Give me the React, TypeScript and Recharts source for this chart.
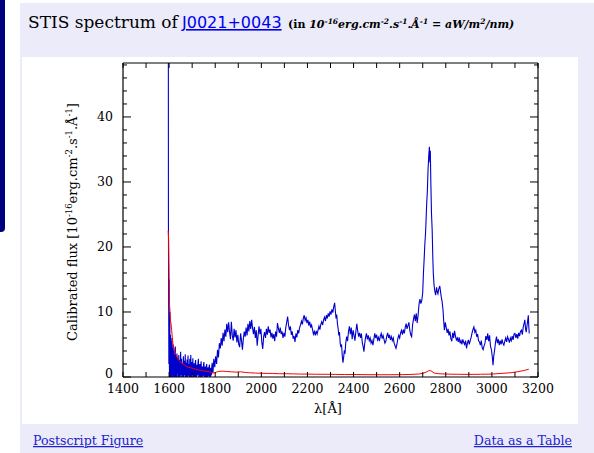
import React from "react";
import { LineChart, Line, XAxis, YAxis } from "recharts";

// Calibrated flux (blue): [wavelength Å, flux]
const blueSpectrum: [number, number][] = [
  [1594, 300], [1597, 24], [1599, 2], [1600, 15], [1601, 3], [1602, -1], [1603, 10], [1604, 2], [1605, 0], [1606, 6.5],
  [1607, 1], [1608, -1], [1609, 5.5], [1610, 2], [1611, 0], [1612, 6], [1613, 1.5], [1614, -1], [1615, 4.5], [1616, 2.5],
  [1617, 0.5], [1618, 5], [1619, 1], [1620, -1], [1621, 4], [1622, 2], [1623, 0], [1624, 3.5], [1625, 1], [1626, -1],
  [1627, 4.7], [1628, 1.5], [1629, 0], [1630, 2.8], [1631, 3.2], [1632, 0.5], [1633, -1], [1634, 3.6], [1635, 1.2],
  [1636, 0.5], [1637, 2.9], [1638, 2.4], [1639, 0.2], [1640, -1], [1641, 1.8], [1642, 3.4], [1643, 1.0], [1644, 0],
  [1645, 1.9], [1646, 2.6], [1647, 0.3], [1648, -1], [1649, 2.2], [1650, 3.9], [1651, 1.1], [1652, 0.3], [1653, 1.7],
  [1654, 2.8], [1655, 0.4], [1656, -1], [1657, 1.6], [1658, 2.1], [1659, 0.6], [1660, 0], [1661, 2.0], [1662, 3.2],
  [1663, 0.8], [1664, -0.5], [1665, 1.8], [1666, 2.5], [1667, 0.3], [1668, 0.5], [1669, 2.2], [1670, 3.5], [1671, 0.9],
  [1672, -1], [1673, 1.5], [1674, 2.2], [1675, 0.4], [1676, 0], [1677, 1.9], [1678, 2.7], [1679, 0.7], [1680, -1],
  [1681, 2.1], [1682, 3.3], [1683, 1.0], [1684, 0.2], [1685, 1.4], [1686, 2.0], [1687, 0.5], [1688, -1], [1689, 1.7],
  [1690, 2.8], [1691, 0.8], [1692, 0], [1693, 2.0], [1694, 3.4], [1695, 1.1], [1696, -0.8], [1697, 1.6], [1698, 2.3],
  [1699, 0.6], [1700, 0.3], [1702, 1.8], [1703, 2.9], [1704, 0.9], [1706, -1], [1707, 1.5], [1709, 2.1], [1710, 0.4],
  [1712, 0], [1713, 1.9], [1715, 2.6], [1716, 0.7], [1718, -0.5], [1719, 1.3], [1721, 1.9], [1722, 0.3], [1724, 0.4],
  [1725, 2.0], [1727, 2.8], [1728, 0.9], [1730, -1], [1731, 1.4], [1733, 2.0], [1734, 0.5], [1736, 0], [1737, 1.7],
  [1739, 2.4], [1740, 0.8], [1742, -0.5], [1743, 1.2], [1745, 1.6], [1746, 0.2], [1748, 0.3], [1749, 1.8], [1751, 2.3],
  [1752, 0.6], [1754, -1], [1755, 1.1], [1757, 1.6], [1758, 0.4], [1760, 0], [1761, 1.5], [1763, 2.0], [1764, 0.5],
  [1766, -0.6], [1767, 1.0], [1769, 1.5], [1770, 0.3], [1772, 0.2], [1773, 1.4], [1775, 1.9], [1776, 0.6], [1778, -1],
  [1779, 0.9], [1781, 1.4], [1782, 0.3], [1784, 0.4], [1785, 1.6], [1787, 2.2], [1788, 0.9], [1790, 0.6],
  [1794, 2.8], [1798, 1.5], [1802, 3.2], [1806, 2.0], [1810, 4.2], [1814, 3.0], [1818, 5.2],
  [1822, 4.4], [1826, 6.0], [1830, 4.8], [1834, 6.8], [1838, 5.5], [1842, 7.3], [1846, 6.2], [1850, 8.2],
  [1854, 6.9], [1858, 8.4], [1862, 7.0], [1866, 5.8], [1870, 8.5], [1874, 6.4], [1878, 5.6], [1882, 7.4],
  [1886, 6.1], [1890, 7.2], [1894, 5.3], [1898, 6.5], [1902, 5.0], [1906, 4.6], [1910, 6.7], [1914, 5.6],
  [1918, 4.2], [1922, 5.9], [1926, 7.0], [1930, 6.2], [1934, 7.6], [1938, 6.4], [1942, 8.2], [1946, 7.0],
  [1950, 8.6], [1954, 7.4], [1958, 8.8], [1962, 7.5], [1966, 6.6], [1970, 7.7], [1974, 6.0], [1978, 7.2],
  [1982, 4.8], [1986, 6.4], [1990, 7.8], [1994, 6.6], [1998, 7.4], [2002, 5.4], [2006, 4.3], [2010, 6.2],
  [2014, 6.9], [2018, 6.0], [2022, 7.4], [2026, 6.5], [2030, 7.8], [2034, 6.8], [2038, 7.3], [2042, 6.1],
  [2046, 6.8], [2050, 5.9], [2054, 6.6], [2058, 5.5], [2062, 7.0], [2066, 6.2], [2070, 8.3], [2074, 7.5],
  [2078, 6.8], [2082, 7.6], [2086, 6.6], [2090, 7.0], [2094, 6.0], [2098, 6.8], [2102, 6.2], [2106, 7.6],
  [2110, 8.4], [2114, 9.3], [2118, 8.0], [2122, 7.2], [2126, 7.8], [2130, 6.5], [2134, 7.0], [2138, 5.9],
  [2142, 6.3], [2146, 5.4], [2150, 6.7], [2154, 6.1], [2158, 7.2], [2162, 6.7], [2166, 7.6], [2170, 8.0],
  [2174, 8.6], [2178, 8.1], [2182, 9.0], [2186, 9.5], [2190, 8.7], [2194, 9.1], [2198, 8.3], [2202, 8.8],
  [2206, 7.9], [2210, 8.5], [2214, 7.6], [2218, 8.0], [2222, 7.3], [2226, 6.6], [2230, 7.0], [2234, 6.4],
  [2238, 7.1], [2242, 6.6], [2246, 7.2], [2250, 7.8], [2254, 7.3], [2258, 8.1], [2262, 8.5], [2266, 8.0],
  [2270, 8.8], [2274, 9.2], [2278, 8.6], [2282, 9.5], [2286, 9.0], [2290, 9.8], [2294, 9.3], [2298, 10.1],
  [2302, 9.6], [2306, 10.4], [2310, 9.9], [2314, 10.8], [2318, 11.4], [2321, 10.2], [2324, 9.0], [2327, 9.6],
  [2330, 8.2], [2333, 7.5], [2336, 6.4], [2339, 6.9], [2342, 5.2], [2345, 4.6], [2348, 5.0], [2351, 3.3],
  [2354, 2.2], [2357, 3.0], [2360, 4.1], [2363, 3.6], [2366, 5.2], [2370, 6.2], [2374, 5.5], [2378, 7.0],
  [2382, 7.8], [2386, 6.6], [2390, 7.6], [2394, 5.8], [2398, 7.2], [2402, 6.4], [2406, 5.6], [2410, 7.0],
  [2414, 8.2], [2418, 7.1], [2422, 6.2], [2426, 6.8], [2430, 6.0], [2434, 6.7], [2438, 5.3], [2442, 4.6],
  [2445, 3.9], [2448, 5.0], [2452, 6.1], [2456, 6.7], [2460, 5.8], [2464, 6.4], [2468, 5.6], [2472, 6.0],
  [2476, 5.2], [2480, 5.6], [2484, 4.9], [2488, 5.8], [2492, 6.7], [2496, 6.0], [2500, 6.5], [2504, 5.7],
  [2508, 6.1], [2512, 5.5], [2516, 6.3], [2520, 6.7], [2524, 5.9], [2528, 6.4], [2532, 5.8], [2536, 5.2],
  [2540, 5.5], [2544, 6.3], [2548, 6.8], [2552, 6.0], [2556, 6.5], [2560, 5.7], [2564, 6.2], [2568, 5.6],
  [2572, 6.0], [2576, 5.2], [2580, 4.8], [2584, 4.4], [2588, 5.0], [2592, 5.9], [2596, 6.4], [2600, 6.0],
  [2604, 6.8], [2608, 7.2], [2612, 6.5], [2616, 7.3], [2620, 6.7], [2624, 7.6], [2628, 8.2], [2632, 7.4],
  [2636, 7.9], [2640, 8.4], [2644, 7.2], [2648, 6.5], [2652, 6.2], [2656, 8.0], [2660, 8.9], [2664, 9.6],
  [2668, 8.6], [2672, 9.8], [2676, 8.3], [2680, 9.5], [2684, 11.2], [2688, 12.0], [2692, 11.3], [2696, 11.8],
  [2700, 13.0], [2703, 15.9], [2706, 18.0], [2709, 20.3], [2712, 22.0], [2714, 23.6], [2717, 26.5], [2720, 28.5],
  [2723, 31.8], [2726, 34.0], [2729, 35.4], [2731, 33.0], [2733, 34.8], [2735, 30.3], [2738, 25.2], [2741, 22.6],
  [2744, 18.0], [2746, 15.9], [2749, 14.2], [2752, 13.3], [2756, 12.6], [2760, 13.8], [2763, 13.1], [2766, 12.8],
  [2770, 13.6], [2774, 14.0], [2777, 13.2], [2780, 12.4], [2784, 11.6], [2788, 10.3], [2791, 8.6], [2794, 7.2],
  [2798, 8.4], [2802, 7.6], [2806, 6.8], [2810, 7.4], [2814, 6.4], [2818, 7.0], [2822, 5.9], [2826, 5.5],
  [2830, 6.8], [2834, 6.0], [2838, 7.1], [2842, 6.3], [2846, 5.7], [2850, 6.0], [2854, 5.4], [2858, 6.1],
  [2862, 5.2], [2866, 5.6], [2870, 5.0], [2874, 5.8], [2878, 5.3], [2882, 5.0], [2886, 5.6], [2890, 4.4],
  [2894, 5.2], [2898, 5.7], [2902, 5.0], [2906, 5.6], [2910, 6.1], [2914, 6.8], [2918, 7.3], [2922, 7.7],
  [2926, 6.9], [2930, 7.2], [2934, 6.2], [2938, 6.6], [2942, 5.6], [2946, 5.4], [2950, 4.9], [2954, 5.6],
  [2958, 4.5], [2962, 4.2], [2966, 4.8], [2970, 5.2], [2974, 6.3], [2978, 5.7], [2982, 6.7], [2986, 5.5],
  [2990, 6.4], [2994, 4.7], [2998, 4.2], [3002, 3.0], [3005, 1.8], [3008, 3.2], [3012, 4.2], [3016, 5.4],
  [3020, 6.2], [3024, 5.2], [3028, 5.8], [3032, 4.9], [3036, 5.6], [3040, 5.0], [3044, 5.8], [3048, 5.2],
  [3052, 4.9], [3056, 5.5], [3060, 6.0], [3064, 5.4], [3068, 6.2], [3072, 5.8], [3076, 5.3], [3080, 6.0],
  [3084, 5.6], [3088, 6.3], [3092, 5.7], [3096, 6.6], [3100, 6.7], [3104, 6.0], [3108, 6.6], [3112, 5.9],
  [3116, 6.8], [3120, 6.3], [3124, 7.0], [3128, 7.2], [3132, 6.5], [3136, 7.7], [3140, 8.3], [3143, 8.8],
  [3146, 7.4], [3149, 6.9], [3152, 7.8], [3155, 8.6], [3158, 9.5], [3160, 7.8], [3162, 6.7],
];

// Error spectrum (red): [wavelength Å, flux]
const errorSpectrum: [number, number][] = [
  [1596, 22.5], [1598, 21], [1600, 15.5], [1602, 11], [1604, 10], [1606, 8.6], [1608, 8.3], [1611, 7.2],
  [1614, 6.0], [1617, 5.0], [1620, 4.6], [1624, 4.0], [1628, 3.5], [1632, 3.3], [1636, 3.0], [1640, 2.6],
  [1646, 2.4], [1652, 2.2], [1660, 2.0], [1668, 1.8], [1676, 1.6], [1685, 1.5], [1695, 1.4], [1705, 1.3],
  [1715, 1.2], [1725, 1.1], [1735, 1.0], [1745, 0.95], [1755, 0.9], [1765, 0.85], [1775, 0.8], [1785, 0.7],
  [1795, 0.6], [1805, 0.75], [1815, 0.85], [1830, 0.9], [1850, 0.85], [1870, 0.8], [1890, 0.75], [1910, 0.8],
  [1930, 0.7], [1950, 0.65], [1975, 0.6], [2000, 0.58], [2025, 0.55], [2050, 0.55], [2080, 0.5], [2110, 0.5],
  [2140, 0.48], [2170, 0.45], [2200, 0.45], [2240, 0.42], [2280, 0.42], [2320, 0.4], [2360, 0.38], [2400, 0.38],
  [2450, 0.36], [2500, 0.35], [2550, 0.35], [2600, 0.36], [2640, 0.38], [2680, 0.45], [2700, 0.55], [2715, 0.75],
  [2725, 0.95], [2732, 1.0], [2740, 0.85], [2750, 0.6], [2770, 0.5], [2800, 0.45], [2850, 0.42], [2900, 0.4],
  [2950, 0.42], [3000, 0.45], [3040, 0.55], [3080, 0.65], [3110, 0.8], [3140, 1.0], [3160, 1.2],
];

const xTicks = [1400, 1500, 1600, 1700, 1800, 1900, 2000, 2100, 2200, 2300, 2400, 2500, 2600, 2700, 2800, 2900, 3000, 3100, 3200];
const xLabelTicks = [1400, 1600, 1800, 2000, 2200, 2400, 2600, 2800, 3000, 3200];
const yTicks = [0, 2, 4, 6, 8, 10, 12, 14, 16, 18, 20, 22, 24, 26, 28, 30, 32, 34, 36, 38, 40, 42, 44, 46, 48];
const yLabelTicks = [0, 10, 20, 30, 40];

const X_DOMAIN: [number, number] = [1400, 3200];
const Y_DOMAIN: [number, number] = [0, 48.3];

const blueData = blueSpectrum.map(([w, f]) => ({ w, f }));
const redData = errorSpectrum.map(([w, f]) => ({ w, f }));

const FONT = "'DejaVu Serif', serif";

const BottomTick = (props: any) => {
  const { x, y, payload } = props;
  const v = payload.value;
  const labeled = xLabelTicks.includes(v);
  return (
    <g>
      <line x1={x} x2={x} y1={y} y2={y - 5} stroke="#000" strokeWidth={1} />
      {labeled && (
        <text x={x} y={y + 16} textAnchor="middle" fontSize={12.5} fontFamily={FONT} fill="#000">
          {v}
        </text>
      )}
    </g>
  );
};

const TopTick = (props: any) => {
  const { x, y } = props;
  return <line x1={x} x2={x} y1={y} y2={y + 5} stroke="#000" strokeWidth={1} />;
};

const LeftTick = (props: any) => {
  const { x, y, payload } = props;
  const v = payload.value;
  const labeled = yLabelTicks.includes(v);
  return (
    <g>
      <line x1={x} x2={x + (labeled ? 8 : 4)} y1={y} y2={y} stroke="#000" strokeWidth={1} />
      {labeled && (
        <text x={x - 10} y={v === 0 ? y - 4 : y} textAnchor="end" dominantBaseline="central" fontSize={12.5} fontFamily={FONT} fill="#000">
          {v}
        </text>
      )}
    </g>
  );
};

const RightTick = (props: any) => {
  const { x, y, payload } = props;
  const labeled = yLabelTicks.includes(payload.value);
  return <line x1={x} x2={x - (labeled ? 8 : 4)} y1={y} y2={y} stroke="#000" strokeWidth={1} />;
};

export default function App() {
  return (
    <div style={{ position: "absolute", left: 0, top: 0, width: 594, height: 453, background: "#fff", overflow: "hidden" }}>
      <div style={{ position: "absolute", left: 0, top: 0, width: 5, height: 232, background: "#00007f", borderBottomRightRadius: 4 }} />
      <div style={{ position: "absolute", left: 20, top: 3, width: 574, height: 450, background: "#ebebfa" }} />
      <div style={{ position: "absolute", left: 22, top: 57, width: 556, height: 367, background: "#ffffff" }} />
      <div style={{ position: "absolute", left: 0, top: 0 }}>
        <LineChart width={594} height={453} margin={{ top: 62, right: 55, bottom: 0, left: 0 }}>
          <XAxis
            xAxisId="bottom"
            dataKey="w"
            type="number"
            domain={X_DOMAIN}
            allowDataOverflow
            ticks={xTicks}
            interval={0}
            height={76}
            tickSize={0}
            tickMargin={0}
            tickLine={false}
            axisLine={{ stroke: "#000", strokeWidth: 1.2 }}
            tick={<BottomTick />}
          />
          <XAxis
            xAxisId="top"
            orientation="top"
            dataKey="w"
            type="number"
            domain={X_DOMAIN}
            allowDataOverflow
            ticks={xTicks}
            interval={0}
            height={1}
            tickSize={0}
            tickMargin={0}
            tickLine={false}
            axisLine={{ stroke: "#000", strokeWidth: 1.2 }}
            tick={<TopTick />}
          />
          <YAxis
            yAxisId="left"
            type="number"
            domain={Y_DOMAIN}
            allowDataOverflow
            ticks={yTicks}
            interval={0}
            width={123}
            tickSize={0}
            tickMargin={0}
            tickLine={false}
            axisLine={{ stroke: "#000", strokeWidth: 1.2 }}
            tick={<LeftTick />}
          />
          <YAxis
            yAxisId="right"
            orientation="right"
            type="number"
            domain={Y_DOMAIN}
            allowDataOverflow
            ticks={yTicks}
            interval={0}
            width={1}
            tickSize={0}
            tickMargin={0}
            tickLine={false}
            axisLine={{ stroke: "#000", strokeWidth: 1.2 }}
            tick={<RightTick />}
          />
          <Line
            data={blueData}
            xAxisId="bottom"
            yAxisId="left"
            dataKey="f"
            type="linear"
            stroke="#0000cc"
            strokeWidth={1.1}
            dot={false}
            isAnimationActive={false}
          />
          <Line
            data={redData}
            xAxisId="top"
            yAxisId="right"
            dataKey="f"
            type="linear"
            stroke="#ff0000"
            strokeWidth={1}
            dot={false}
            isAnimationActive={false}
          />
        </LineChart>
      </div>
      <svg width={594} height={453} style={{ position: "absolute", left: 0, top: 0, pointerEvents: "none" }}>
        <text x={28} y={28} fontFamily={FONT} fontSize={17} fill="#000">STIS spectrum of</text>
        <text x={182} y={28} fontFamily="'DejaVu Sans', sans-serif" fontSize={16} fill="#0000ee" textDecoration="underline">J0021+0043</text>
        <text x={288} y={28} fontFamily={FONT} fontSize={11} fontWeight="bold" fill="#000">
          <tspan>(in </tspan>
          <tspan fontStyle="italic">10</tspan>
          <tspan fontStyle="italic" fontSize={7.5} dy={-4}>-16</tspan>
          <tspan fontStyle="italic" dy={4}>erg.cm</tspan>
          <tspan fontStyle="italic" fontSize={7.5} dy={-4}>-2</tspan>
          <tspan fontStyle="italic" dy={4}>.s</tspan>
          <tspan fontStyle="italic" fontSize={7.5} dy={-4}>-1</tspan>
          <tspan fontStyle="italic" dy={4}>.Å</tspan>
          <tspan fontStyle="italic" fontSize={7.5} dy={-4}>-1</tspan>
          <tspan fontStyle="italic" dy={4}> = aW/m</tspan>
          <tspan fontStyle="italic" fontSize={7.5} dy={-4}>2</tspan>
          <tspan fontStyle="italic" dy={4}>/nm)</tspan>
        </text>
        <text x={328} y={413} textAnchor="middle" fontFamily={FONT} fontSize={13} fill="#000">λ[Å]</text>
        <text x={0} y={0} transform="translate(77,222) rotate(-90)" textAnchor="middle" fontFamily={FONT} fontSize={13} fill="#000">
          <tspan>Calibrated flux [10</tspan>
          <tspan fontSize={8.5} dy={-5}>-16</tspan>
          <tspan dy={5}>erg.cm</tspan>
          <tspan fontSize={8.5} dy={-5}>-2</tspan>
          <tspan dy={5}>.s</tspan>
          <tspan fontSize={8.5} dy={-5}>-1</tspan>
          <tspan dy={5}>.Å</tspan>
          <tspan fontSize={8.5} dy={-5}>-1</tspan>
          <tspan dy={5}>]</tspan>
        </text>
        <text x={33} y={445} fontFamily={FONT} fontSize={12.6} fill="#2222cc" textDecoration="underline">Postscript Figure</text>
        <text x={572} y={445} textAnchor="end" fontFamily={FONT} fontSize={12.6} fill="#2222cc" textDecoration="underline">Data as a Table</text>
      </svg>
    </div>
  );
}
